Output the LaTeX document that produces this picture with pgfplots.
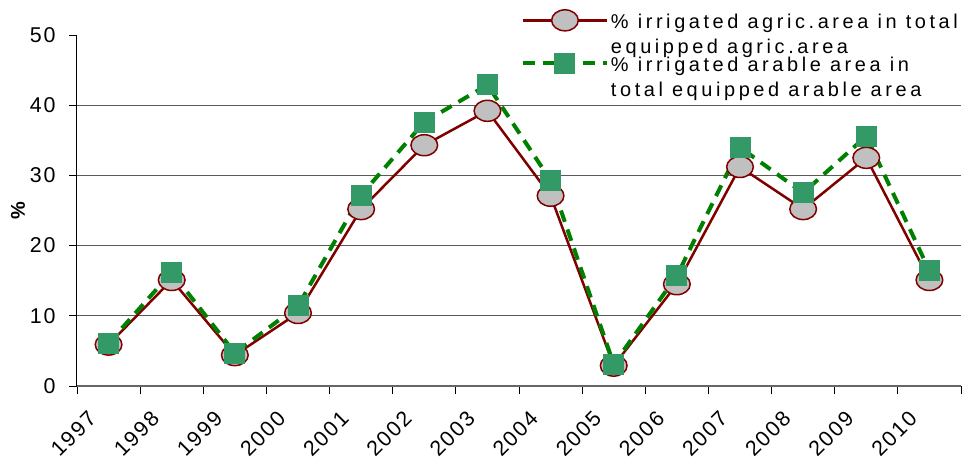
\documentclass[border=0pt]{standalone}
\usepackage{fontspec}
\setmainfont{Liberation Sans}
\newfontfamily\legfont[LetterSpace=18]{Liberation Sans}
\newfontfamily\tickfont[LetterSpace=9]{Liberation Sans}
\usepackage{pgfplots}
\pgfplotsset{compat=1.18}
\definecolor{dred}{RGB}{128,0,0}
\definecolor{mgray}{RGB}{192,192,192}
\definecolor{dgreen}{RGB}{0,128,0}
\definecolor{sqgreen}{RGB}{51,153,102}
\definecolor{gridc}{RGB}{90,90,90}
\begin{document}
\begin{tikzpicture}
\useasboundingbox (-77bp,-72bp) rectangle (885bp,386bp);
\begin{axis}[
  scale only axis, width=884bp, height=351bp,
  xmin=1997, xmax=2011, ymin=0, ymax=50,
  axis x line*=bottom, axis y line*=left,
  x axis line style={draw=gray!80!black, line width=1.2bp},
  y axis line style={draw=black, line width=1bp},
  xtick={1997,...,2010},
  extra x ticks={2011}, extra x tick labels={},
  ytick={0,50},
  extra y ticks={10,20,30,40},
  extra y tick style={grid=major},
  grid style={gridc, line width=0.8bp},
  tick align=outside,
  major tick length=8bp,
  tick style={black, line width=0.8bp},
  /pgf/number format/assume math mode=true,
  /pgf/number format/1000 sep={},
  yticklabel style={font=\tickfont\fontsize{21.5}{25}\selectfont, xshift=-10bp},
  xticklabel style={font=\tickfont\fontsize{21.5}{25}\selectfont, rotate=45, anchor=north east, inner sep=1bp, yshift=-9bp, xshift=5bp},
  xticklabel shift=11bp,
  ylabel={\textbf{\%}},
  ylabel style={font=\fontsize{20}{24}\selectfont, at={(rel axis cs:0,0.5)}, anchor=center, xshift=0bp, yshift=59bp},
  legend style={at={(rel axis cs:0.502,1.075)}, anchor=north west, draw=none, fill=none,
    font=\legfont\fontsize{20}{25}\selectfont, inner sep=0pt, row sep=20bp,
    nodes={inner sep=2bp}},
  legend cell align=left,
  legend image code/.code={\draw[mark repeat=2,mark phase=2] plot coordinates {(0bp,0bp) (42bp,0bp) (84bp,0bp)};},
]
\addplot[dred, line width=2.5bp, mark=*, mark size=10.5bp,
  mark options={solid, fill=mgray, draw=dred, line width=1.5bp, xscale=1.27}]
  coordinates {
  (1997.5,5.9) (1998.5,15.1) (1999.5,4.4) (2000.5,10.4) (2001.5,25.2)
  (2002.5,34.3) (2003.5,39.2) (2004.5,27.1) (2005.5,2.9) (2006.5,14.5)
  (2007.5,31.2) (2008.5,25.2) (2009.5,32.5) (2010.5,15.1)};
\addlegendentry{\begin{tabular}[t]{@{}l@{}}\% irrigated agric.area in total\\equipped agric.area\end{tabular}}
\addplot[dgreen, line width=4bp, dash pattern=on 12bp off 8bp, mark=square*, mark size=10bp,
  mark options={solid, fill=sqgreen, draw=sqgreen, line width=0bp}]
  coordinates {
  (1997.5,6.1) (1998.5,16.2) (1999.5,4.7) (2000.5,11.4) (2001.5,27.2)
  (2002.5,37.6) (2003.5,42.9) (2004.5,29.3) (2005.5,3.1) (2006.5,15.7)
  (2007.5,34.0) (2008.5,27.5) (2009.5,35.6) (2010.5,16.4)};
\addlegendentry{\begin{tabular}[t]{@{}l@{}}\% irrigated arable area in\\total equipped arable area\end{tabular}}
\end{axis}
\end{tikzpicture}
\end{document}
